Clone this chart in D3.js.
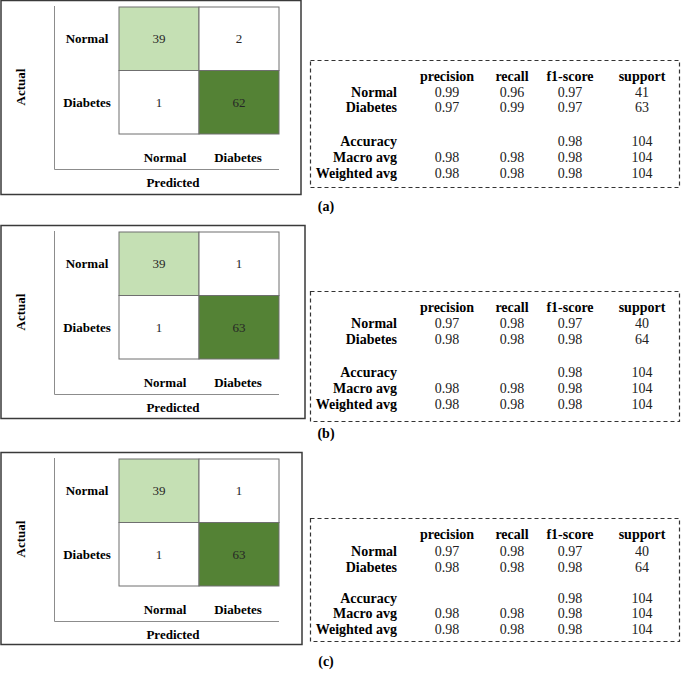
<!DOCTYPE html>
<html>
<head>
<meta charset="utf-8">
<script src="https://cdn.jsdelivr.net/npm/d3@7"></script>
<style>
html,body{margin:0;padding:0;background:#fff;}
svg text{font-family:"Liberation Serif","Times New Roman",Times,"DejaVu Serif",serif;}
</style>
</head>
<body>
<svg id="chart" width="685" height="675"></svg>
<script>
// ---- data ----
const classes = ["Normal", "Diabetes"];
const panelLabels = ["(a)", "(b)", "(c)"];
// confusion matrices: rows = actual, cols = predicted
const matrixA = [[39, 2], [1, 62]];
const matrixB = [[39, 1], [1, 63]];
const matrixC = [[39, 1], [1, 63]];
const reportColumns = ["precision", "recall", "f1-score", "support"];
const reportRows = ["Normal", "Diabetes", "", "Accuracy", "Macro avg", "Weighted avg"];
const reportA = [["0.99","0.96","0.97","41"],["0.97","0.99","0.97","63"],["","","",""],["","","0.98","104"],["0.98","0.98","0.98","104"],["0.98","0.98","0.98","104"]];
const reportB = [["0.97","0.98","0.97","40"],["0.98","0.98","0.98","64"],["","","",""],["","","0.98","104"],["0.98","0.98","0.98","104"],["0.98","0.98","0.98","104"]];
const reportC = [["0.97","0.98","0.97","40"],["0.98","0.98","0.98","64"],["","","",""],["","","0.98","104"],["0.98","0.98","0.98","104"],["0.98","0.98","0.98","104"]];

const matrices = [matrixA, matrixB, matrixC];
const reports = [reportA, reportB, reportC];

// ---- layout ----
const FONT = '"Liberation Serif", "Times New Roman", Times, "DejaVu Serif", serif';
const panels = [
  {top: 0,   bottom: 194, right: 301, tTop: 60,  tBottom: 187, rowOffsets: [16, 32, 47, 64, 81, 97, 113]},
  {top: 225, bottom: 418, right: 305, tTop: 291, tBottom: 421, rowOffsets: [16, 32, 48, 64, 81, 97, 113]},
  {top: 452, bottom: 644, right: 302, tTop: 518, tBottom: 641, rowOffsets: [16, 33, 49, 64, 80, 95, 111]}
];

const svg = d3.select("#chart").attr("font-family", FONT);

const color = d3.scaleThreshold().domain([10, 50]).range(["#ffffff", "#c5e0b4", "#548235"]);
const xCell = d3.scaleBand().domain(classes).range([119, 279]);
const xColLabel = d3.scalePoint().domain(classes).range([165, 238]);
const colX = d3.scaleOrdinal().domain(reportColumns).range([447, 512, 570, 642]);

panels.forEach((p, i) => {
  const g = svg.append("g").attr("transform", `translate(0,${p.top})`);
  const yCell = d3.scaleBand().domain(classes).range([7, 134]);
  g.append("rect").attr("x", 1).attr("y", 0.5).attr("width", p.right - 1).attr("height", p.bottom - p.top)
    .attr("fill", "none").attr("stroke", "#3a3a3a").attr("stroke-width", 1.5);
  g.append("path").attr("d", `M54.5,6 V169.5 H279`).attr("fill", "none").attr("stroke", "#8c8c8c").attr("stroke-width", 1);
  const cells = [];
  matrices[i].forEach((row, r) => row.forEach((v, c) => cells.push({r: classes[r], c: classes[c], v})));
  g.selectAll("rect.cell").data(cells).join("rect").attr("class", "cell")
    .attr("x", d => xCell(d.c)).attr("y", d => yCell(d.r))
    .attr("width", xCell.bandwidth()).attr("height", yCell.bandwidth())
    .attr("fill", d => color(d.v)).attr("stroke", "#6f6f6f").attr("stroke-width", 1);
  g.selectAll("text.val").data(cells).join("text").attr("class", "val")
    .attr("x", d => xCell(d.c) + xCell.bandwidth() / 2).attr("y", d => yCell(d.r) + yCell.bandwidth() / 2)
    .attr("text-anchor", "middle").attr("dominant-baseline", "central")
    .attr("font-size", 13).attr("fill", "#262626").text(d => d.v);
  g.selectAll("text.rl").data(classes).join("text").attr("class", "rl")
    .attr("x", 87).attr("y", d => yCell(d) + yCell.bandwidth() / 2)
    .attr("text-anchor", "middle").attr("dominant-baseline", "central")
    .attr("font-size", 13).attr("font-weight", "bold").text(d => d);
  g.selectAll("text.cl").data(classes).join("text").attr("class", "cl")
    .attr("x", d => xColLabel(d)).attr("y", 157)
    .attr("text-anchor", "middle").attr("dominant-baseline", "central")
    .attr("font-size", 13).attr("font-weight", "bold").text(d => d);
  g.append("text").attr("x", 173).attr("y", 182).attr("text-anchor", "middle").attr("dominant-baseline", "central")
    .attr("font-size", 13).attr("font-weight", "bold").text("Predicted");
  g.append("text").attr("transform", `translate(20,87) rotate(-90)`).attr("text-anchor", "middle").attr("dominant-baseline", "central")
    .attr("font-size", 13).attr("font-weight", "bold").text("Actual");

  const t = svg.append("g");
  t.append("rect").attr("x", 310.5).attr("y", p.tTop + 0.5).attr("width", 369).attr("height", p.tBottom - p.tTop)
    .attr("fill", "none").attr("stroke", "#333").attr("stroke-width", 1.2).attr("stroke-dasharray", "4,3");
  const rowY = d3.scaleOrdinal().domain(["__header"].concat(reportRows.map((d, k) => k))).range(p.rowOffsets.map(o => p.tTop + o));
  t.selectAll("text.hdr").data(reportColumns).join("text").attr("class", "hdr")
    .attr("x", d => colX(d)).attr("y", rowY("__header"))
    .attr("text-anchor", "middle").attr("dominant-baseline", "central")
    .attr("font-size", 14).attr("font-weight", "bold").text(d => d);
  t.selectAll("text.rlab").data(reportRows).join("text").attr("class", "rlab")
    .attr("x", 397).attr("y", (d, k) => rowY(k))
    .attr("text-anchor", "end").attr("dominant-baseline", "central")
    .attr("font-size", 14).attr("font-weight", "bold").text(d => d);
  const vals = [];
  reports[i].forEach((row, k) => row.forEach((v, c) => { if (v !== "") vals.push({k, col: reportColumns[c], v}); }));
  t.selectAll("text.rv").data(vals).join("text").attr("class", "rv")
    .attr("x", d => colX(d.col)).attr("y", d => rowY(d.k))
    .attr("text-anchor", "middle").attr("dominant-baseline", "central")
    .attr("font-size", 14).attr("fill", "#222").text(d => d.v);
});

const labelY = d3.scaleOrdinal().domain(panelLabels).range([206, 433, 661]);
svg.selectAll("text.pl").data(panelLabels).join("text").attr("class", "pl")
  .attr("x", 326).attr("y", d => labelY(d)).attr("text-anchor", "middle").attr("dominant-baseline", "central")
  .attr("font-size", 14).attr("font-weight", "bold").text(d => d);
</script>
</body>
</html>
